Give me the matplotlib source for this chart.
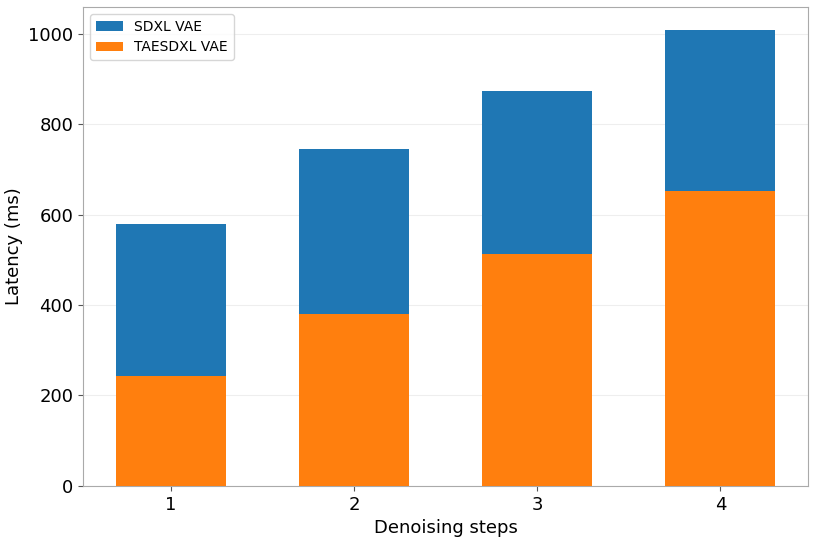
import numpy as np
import matplotlib.pyplot as plt

steps = [1, 2, 3, 4]
sdxl_vae = [580, 746, 875, 1009]
taesdxl_vae = [243, 380, 513, 652]

fig, ax = plt.subplots(figsize=(8.14, 5.41), dpi=100)
fig.subplots_adjust(left=0.102, right=0.993, top=0.987, bottom=0.102)

ax.bar(steps, sdxl_vae, width=0.6, color='#1f77b4', label='SDXL VAE', zorder=3)
ax.bar(steps, taesdxl_vae, width=0.6, color='#ff7f0e', label='TAESDXL VAE', zorder=3)

ax.set_xticks(steps)
ax.set_ylim(0, 1060)
ax.set_xlabel('Denoising steps', fontsize=13)
ax.set_ylabel('Latency (ms)', fontsize=13)
ax.tick_params(labelsize=13, color='#555555')
ax.yaxis.grid(True, color='#eeeeee', zorder=0)
for s in ax.spines.values():
    s.set_color('#aaaaaa')
ax.legend(loc='upper left', fontsize=10)
fig.savefig('out.png')
